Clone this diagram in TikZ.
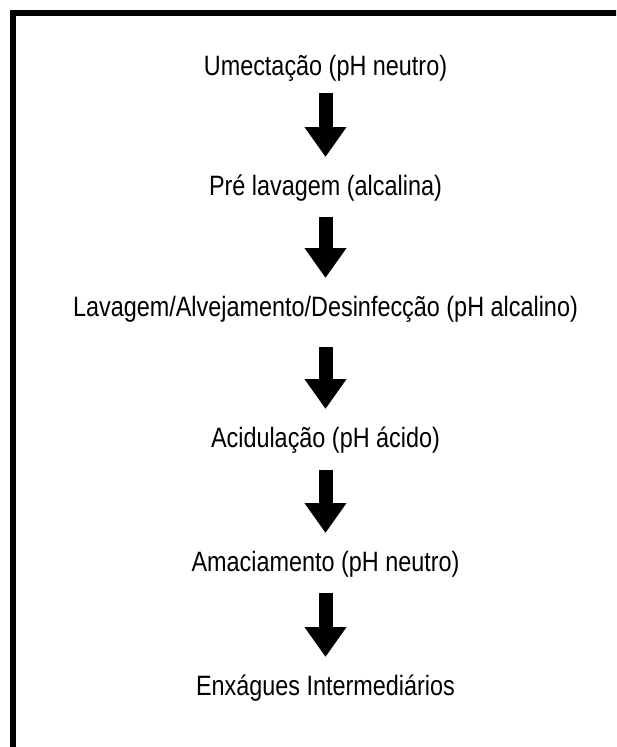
\documentclass[tikz,border=0pt]{standalone}
\usepackage{fontspec}
\setmainfont{Liberation Sans}[FakeStretch=0.836]
\usetikzlibrary{arrows.meta}

\begin{document}
\begin{tikzpicture}[x=1pt, y=-1pt,
                    steplabel/.style={anchor=base, inner sep=0pt, font=\fontsize{28}{30}\selectfont},
                    blockarrow/.style={line width=14pt, -{Triangle[width=40pt,length=30pt]}}]
  \useasboundingbox (0,0) rectangle (616,747);
  \clip (0,0) rectangle (616,747);
  % frame (only top and left edges fall inside the picture)
  \draw[line width=6pt] (12.5,770) -- (12.5,12.5) -- (640,12.5);
  % steps
  \node[steplabel] (umect) at (325.5,75)  {Umectação (pH neutro)};
  \node[steplabel] (prelav) at (325.5,195) {Pré lavagem (alcalina)};
  \node[steplabel] (lavagem) at (325.5,316) {Lavagem/Alvejamento/Desinfecção (pH alcalino)};
  \node[steplabel] (acidul) at (325.5,447) {Acidulação (pH ácido)};
  \node[steplabel] (amac) at (325.5,571) {Amaciamento (pH neutro)};
  \node[steplabel] (enxag) at (325.5,695) {Enxágues Intermediários};
  % arrows
  \draw[blockarrow, shorten <=18pt, shorten >=38pt] (umect.base) -- (prelav.base);
  \draw[blockarrow, shorten <=22pt, shorten >=38pt] (prelav.base) -- (lavagem.base);
  \draw[blockarrow, shorten <=31pt, shorten >=38pt] (lavagem.base) -- (acidul.base);
  \draw[blockarrow, shorten <=23pt, shorten >=38pt] (acidul.base) -- (amac.base);
  \draw[blockarrow, shorten <=22pt, shorten >=38pt] (amac.base) -- (enxag.base);
\end{tikzpicture}
\end{document}
